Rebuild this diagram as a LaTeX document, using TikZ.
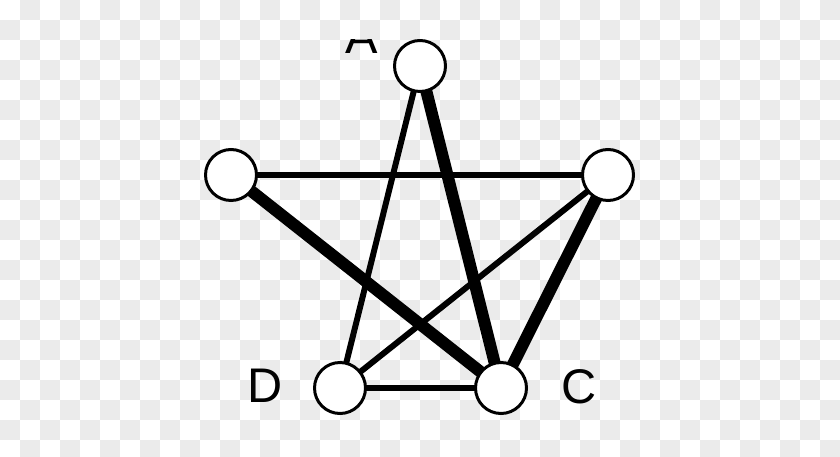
\documentclass[tikz,border=0pt]{standalone}
\usepackage{fontspec}
\setmainfont{Liberation Sans}
\usepackage{tikz}
\usetikzlibrary{calc}
\definecolor{checkgray}{HTML}{EBEBEB}
\tikzset{%
  thinedge/.style={line width=5.1pt},
  thickedge/.style={line width=10.2pt},
  vertex/.style={circle, draw=black, fill=white, line width=2.55pt, inner sep=0pt, minimum size=1.53cm},
  vlabel/.style={inner sep=0pt, font=\fontsize{41.5}{50}\selectfont}
}

\begin{document}
\begin{tikzpicture}[x=0.03cm, y=-0.03cm]

\useasboundingbox (0,0) rectangle (840,457);
\clip (0,0) rectangle (840,457);

% 背景
\foreach \j in {0,...,22} {
  \pgfmathtruncatemacro{\s}{mod(\j+1,2)}
  \foreach \i in {0,...,20} {
    \fill [checkgray] ({20*(2*\i+\s)}, {20*\j}) rectangle +(20,20);
  }
}

\begin{scope}
\clip (0,40) rectangle (840,457);

\coordinate (PA) at (420, 66);
\coordinate (PB) at (608, 175);
\coordinate (PC) at (501, 388);
\coordinate (PD) at (340, 388);
\coordinate (PE) at (231, 175);

\draw [thinedge] (PA) -- (PD);
\draw [thinedge] (PE) -- (PB);
\draw [thinedge] (PB) -- (PD);
\draw [thinedge] (PD) -- (PC);
\draw [thickedge] (PA) -- (PC);
\draw [thickedge] (PE) -- (PC);
\draw [thickedge] (PB) -- (PC);

\node (A) [vertex] at (PA) {};
\node (B) [vertex] at (PB) {};
\node (C) [vertex] at (PC) {};
\node (D) [vertex] at (PD) {};
\node (E) [vertex] at (PE) {};

\node (lA) [vlabel] at (362, 37) {A};
\node (lC) [vlabel] at (579, 387) {C};
\node (lD) [vlabel] at (265, 386) {D};
\end{scope}
\end{tikzpicture}
\end{document}
